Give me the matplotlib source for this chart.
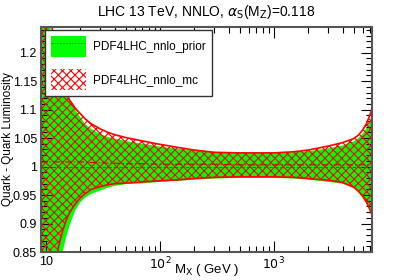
import numpy as np
import matplotlib
matplotlib.use("Agg")
import matplotlib.pyplot as plt
from matplotlib.patches import Patch
from matplotlib.lines import Line2D
from matplotlib.ticker import FixedLocator, FuncFormatter, MultipleLocator, LogLocator

# ------------------------------------------------------------- Dane
mx = [9, 10, 11, 12, 13, 14, 15, 16, 18, 20, 22, 25, 30, 35, 40, 50, 70, 100, 150, 200,
      300, 500, 700, 1000, 1500, 2000, 3000, 4000, 5000, 5500, 6000, 6500, 7000, 7300]

prior_up = [1.40, 1.32, 1.24, 1.20, 1.17, 1.15, 1.132, 1.118, 1.100, 1.087, 1.075, 1.066, 1.057,
            1.052, 1.049, 1.045, 1.040, 1.035, 1.031, 1.028, 1.025, 1.024, 1.0235, 1.0235, 1.025,
            1.027, 1.032, 1.037, 1.044, 1.050, 1.058, 1.068, 1.082, 1.095]
prior_dn = [0.60, 0.68, 0.74, 0.78, 0.82, 0.849, 0.875, 0.895, 0.922, 0.937, 0.945, 0.952, 0.958,
            0.963, 0.966, 0.969, 0.9705, 0.973, 0.975, 0.977, 0.979, 0.980, 0.980, 0.980, 0.979,
            0.977, 0.973, 0.970, 0.962, 0.955, 0.946, 0.935, 0.922, 0.910]
prior_c = [1.0] * len(mx)

mc_up = [1.45, 1.35, 1.26, 1.21, 1.18, 1.155, 1.135, 1.118, 1.103, 1.093, 1.084, 1.075, 1.066,
         1.060, 1.056, 1.051, 1.045, 1.039, 1.033, 1.029, 1.025, 1.024, 1.024, 1.024, 1.026,
         1.029, 1.036, 1.042, 1.049, 1.055, 1.064, 1.076, 1.092, 1.105]
mc_dn = [0.65, 0.72, 0.78, 0.83, 0.862, 0.887, 0.905, 0.918, 0.934, 0.945, 0.952, 0.960, 0.965,
         0.968, 0.970, 0.971, 0.973, 0.975, 0.977, 0.979, 0.981, 0.982, 0.982, 0.982, 0.981,
         0.979, 0.976, 0.972, 0.964, 0.957, 0.948, 0.937, 0.923, 0.913]
mc_c = [1.008, 1.008, 1.008, 1.008, 1.008, 1.008, 1.008, 1.008, 1.008, 1.008, 1.008, 1.007, 1.007,
        1.006, 1.006, 1.005, 1.005, 1.004, 1.004, 1.004, 1.004, 1.003, 1.003, 1.003, 1.003,
        1.003, 1.003, 1.003, 1.003, 1.003, 1.003, 1.003, 1.003, 1.003]

x_ticks = [10, 100, 1000]
x_labels = ["10", r"$10^2$", r"$10^3$"]

# ------------------------------------------------------------- Rysunek
plt.rcParams['font.family'] = ['Liberation Sans', 'DejaVu Sans']
plt.rcParams['hatch.linewidth'] = 0.8

fig = plt.figure(figsize=(4.13, 2.8), dpi=100)
ax = fig.add_axes([41 / 413, 28 / 280, 331 / 413, 225 / 280])

GREEN = '#00ff00'
HATCH = 'xxxx'

# pasmo prior (zielone)
ax.fill_between(mx, prior_dn, prior_up, facecolor=GREEN, edgecolor='none', lw=0, zorder=1)
ax.plot(mx, prior_c, color='#1a7a1a', ls=(0, (3, 2)), lw=0.8, zorder=3)

# pasmo mc (czerwone kratkowanie)
ax.fill_between(mx, mc_dn, mc_up, facecolor='none', edgecolor='red', hatch=HATCH, lw=0, zorder=2)
ax.plot(mx, mc_up, color='red', lw=1.2, zorder=4)
ax.plot(mx, mc_dn, color='red', lw=1.2, zorder=4)
ax.plot(mx, mc_c, color='#cc0000', ls=(0, (6, 2, 1, 2)), lw=0.8, zorder=3)

# ------------------------------------------------------------- Osie
ax.set_xscale('log')
ax.set_xlim(9.05, 7250)
ax.set_ylim(0.85, 1.245)

ax.xaxis.set_major_locator(FixedLocator(x_ticks))
ax.xaxis.set_major_formatter(FuncFormatter(lambda v, p: x_labels[x_ticks.index(v)] if v in x_ticks else ""))
ax.xaxis.set_minor_locator(LogLocator(base=10, subs=np.arange(2, 10)))
ax.xaxis.set_minor_formatter(FuncFormatter(lambda v, p: ""))
ax.yaxis.set_major_locator(MultipleLocator(0.05))
ax.yaxis.set_minor_locator(MultipleLocator(0.01))
ax.yaxis.set_major_formatter(FuncFormatter(lambda v, p: "%g" % round(v, 2)))

ax.tick_params(which='both', direction='in', top=True, right=True, labelsize=9, colors='black')
ax.tick_params(which='major', length=8, width=0.8, pad=3)
ax.tick_params(which='minor', length=4, width=0.8)
for s in ax.spines.values():
    s.set_linewidth(1.5)
    s.set_color('#555555')
    s.set_zorder(6)

ax.set_xlabel(r"M$_{\mathrm{X}}$ ( GeV )", fontsize=9.5)
ax.xaxis.set_label_coords(0.5, -0.045)
ax.set_ylabel("Quark - Quark Luminosity", fontsize=8.5)
ax.yaxis.set_label_coords(-0.082, 0.5)
ax.set_title(r"LHC 13 TeV, NNLO, $\alpha_{\mathrm{S}}$(M$_{\mathrm{Z}}$)=0.118", fontsize=10, pad=8)

# ------------------------------------------------------------- Legenda
h_prior = (Patch(facecolor=GREEN, edgecolor='none'),
           Line2D([0], [0], color='#1a7a1a', ls=(0, (2, 1.5)), lw=0.6))
h_mc = Patch(facecolor='white', edgecolor='red', hatch=HATCH, lw=0)
leg = ax.legend([h_prior, h_mc], ["PDF4LHC_nnlo_prior", "PDF4LHC_nnlo_mc"],
                loc='upper left', bbox_to_anchor=(0.012, 0.987), borderaxespad=0,
                fontsize=8.5, handlelength=3.0, handleheight=2.4, labelspacing=1.0,
                handletextpad=0.6, borderpad=0.5, fancybox=False, framealpha=1,
                edgecolor='#333333')
leg.get_frame().set_linewidth(1.0)
leg.set_zorder(7)

fig.savefig("out.png", dpi=100)
